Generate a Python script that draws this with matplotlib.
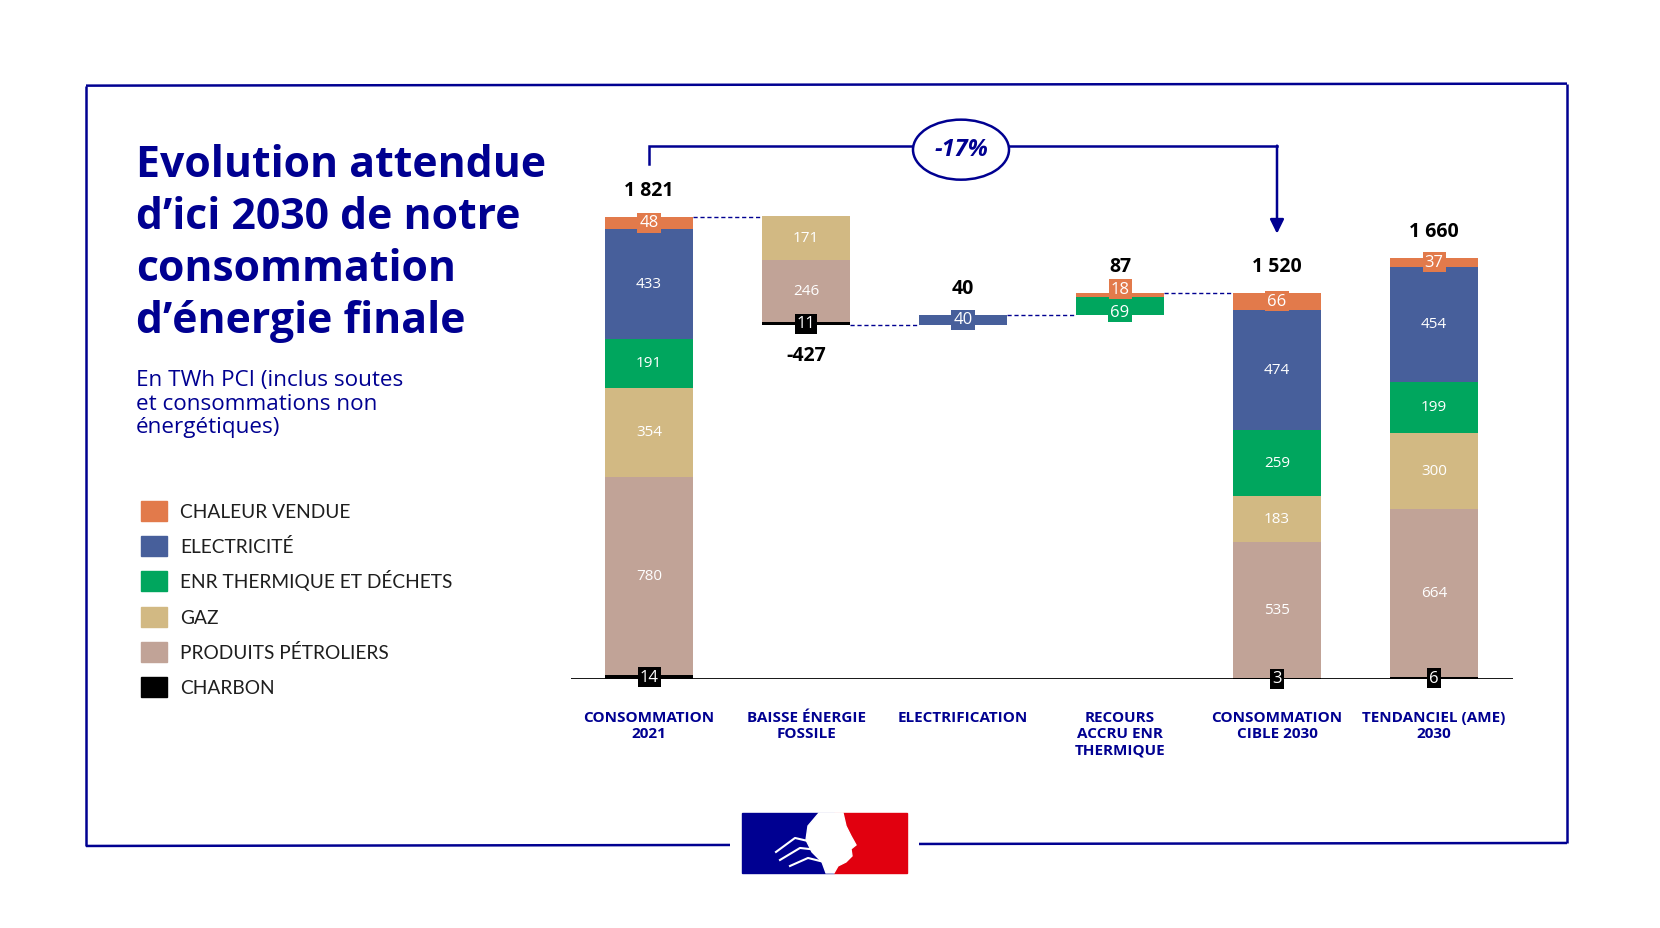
import matplotlib.pyplot as plt
from matplotlib.patches import Rectangle, Ellipse, Polygon

NAVY = "#000091"

# --- data ---------------------------------------------------------------
categories = ["CONSOMMATION\n2021", "BAISSE ÉNERGIE\nFOSSILE", "ELECTRIFICATION",
              "RECOURS\nACCRU ENR\nTHERMIQUE", "CONSOMMATION\nCIBLE 2030",
              "TENDANCIEL (AME)\n2030"]
kinds = ["total", "step", "step", "step", "total", "total"]

# stacked from bottom to top
energies = ["CHARBON", "PRODUITS PÉTROLIERS", "GAZ",
            "ENR THERMIQUE ET DÉCHETS", "ELECTRICITÉ", "CHALEUR VENDUE"]
charbon = [14, 11, 0, 0, 3, 6]
petrole = [780, 246, 0, 0, 535, 664]
gaz = [354, 171, 0, 0, 183, 300]
enr = [191, 0, 0, 69, 259, 199]
electricite = [433, 0, 40, 0, 474, 454]
chaleur = [48, 0, 0, 18, 66, 37]
totals = [1821, -427, 40, 87, 1520, 1660]
evolution = "-17%"

colors = ["#000000", "#C1A397", "#D2B983", "#00A65E", "#475F9B", "#E27A4B"]
series = [charbon, petrole, gaz, enr, electricite, chaleur]

# --- layout (pixels of the 1660x928 canvas) -----------------------------
W, H = 1660, 928
BASE_Y = 679          # pixel row of the zero line
PX_PER_TWH = 0.2537
X0, DX = 649, 157     # centre of first bar, spacing
AX_L, AX_R, AX_T = 571, 1513, 100
BAR_W = 88 / DX

plt.rcParams["font.family"] = ["Open Sans", "DejaVu Sans"]

fig = plt.figure(figsize=(W / 100, H / 100 + 0.004), dpi=100)

# overlay in pixel coordinates for frame, title, legend and logo
ov = fig.add_axes([0, 0, 1, 1])
ov.set_xlim(0, W)
ov.set_ylim(H, 0)
ov.axis("off")

ax = fig.add_axes([AX_L / W, (H - BASE_Y) / H, (AX_R - AX_L) / W, (BASE_Y - AX_T) / H])
ax.set_facecolor("none")
ax.set_xlim((AX_L - X0) / DX, (AX_R - X0) / DX)
ax.set_ylim(0, (BASE_Y - AX_T) / PX_PER_TWH)
for s in ax.spines.values():
    s.set_visible(False)
ax.set_yticks([])

# waterfall bases
bases, levels = [], []
level = 0
for i, k in enumerate(kinds):
    if k == "total":
        bases.append(0)
        level = totals[i]
    elif totals[i] < 0:
        level += totals[i]
        bases.append(level)
    else:
        bases.append(level)
        level += totals[i]
    levels.append(level)

min_gap = 23 / PX_PER_TWH
for i in range(len(categories)):
    cum = bases[i]
    boxed = []
    for vals, col in zip(series, colors):
        v = vals[i]
        if v <= 0:
            continue
        ax.bar(i, v, bottom=cum, width=BAR_W, color=col, zorder=2)
        yc = cum + v / 2
        if v < 100:
            boxed.append([yc, v, col])
        else:
            ax.text(i, yc, str(v), ha="center", va="center", color="white",
                    fontsize=11, zorder=4)
        cum += v
    # push adjacent small labels apart
    for a, b in zip(boxed, boxed[1:]):
        gap = b[0] - a[0]
        if gap < min_gap:
            d = (min_gap - gap) / 2
            a[0] -= d
            b[0] += d
    for yc, v, col in boxed:
        ax.text(i, yc, str(v), ha="center", va="center", color="white",
                fontsize=12, zorder=5,
                bbox=dict(boxstyle="square,pad=0.12", fc=col, ec="none"))

    # total labels
    lab = f"{totals[i]:,}".replace(",", " ")
    if totals[i] < 0:
        ax.annotate(lab, (i, bases[i]), xytext=(0, -22), textcoords="offset points",
                    ha="center", va="center", fontsize=14, fontweight="bold",
                    annotation_clip=False)
    else:
        ax.annotate(lab, (i, cum), xytext=(0, 19), textcoords="offset points",
                    ha="center", va="center", fontsize=14, fontweight="bold",
                    annotation_clip=False)

# dashed connectors
for i in range(len(categories) - 1):
    if kinds[i + 1] == "step" or kinds[i] == "step":
        ax.plot([i + BAR_W / 2, i + 1 - BAR_W / 2], [levels[i], levels[i]],
                color=NAVY, lw=1, ls=(0, (3, 2)), zorder=1)

ax.axhline(0, color="black", lw=2, zorder=3)

ax.set_xticks(range(len(categories)))
ax.set_xticklabels(categories, fontsize=11, fontweight="bold", color=NAVY,
                   linespacing=1.2)
ax.tick_params(axis="x", length=0, pad=23)

# evolution bracket
y_br = (BASE_Y - 146) / PX_PER_TWH
ax.plot([0, 0, 4], [(BASE_Y - 164) / PX_PER_TWH, y_br, y_br], color=NAVY, lw=1.8,
        clip_on=False, solid_joinstyle="miter")
ax.annotate("", xy=(4, (BASE_Y - 234) / PX_PER_TWH), xytext=(4, y_br),
            arrowprops=dict(arrowstyle="-|>,head_width=0.42,head_length=0.85",
                            color=NAVY, lw=1.8, shrinkA=0, shrinkB=0),
            annotation_clip=False)
ell_x = (961 - X0) / DX
ell_y = (BASE_Y - 150) / PX_PER_TWH
ax.add_patch(Ellipse((ell_x, ell_y), 96 / DX, 60 / PX_PER_TWH, fc="white",
                     ec=NAVY, lw=1.8, zorder=5, clip_on=False))
ax.text(ell_x, ell_y, evolution, ha="center", va="center", color=NAVY,
        fontsize=17, fontweight="bold", fontstyle="italic", zorder=6)

# frame with gap for logo
fkw = dict(color=NAVY, lw=1.8, solid_capstyle="butt")
ov.plot([86, 1567], [86, 84], **fkw)
ov.plot([86, 86], [86, 846], **fkw)
ov.plot([1567, 1567], [84, 843], **fkw)
ov.plot([86, 730], [846, 845], **fkw)
ov.plot([919, 1567], [844, 843], **fkw)

# title and subtitle
title = ["Evolution attendue", "d’ici 2030 de notre", "consommation",
         "d’énergie finale"]
for k, line in enumerate(title):
    ov.text(136, 177 + 52 * k, line, fontsize=30.8, fontweight="bold", color=NAVY,
            va="baseline")
subtitle = ["En TWh PCI (inclus soutes", "et consommations non", "énergétiques)"]
for k, line in enumerate(subtitle):
    ov.text(136, 386 + 23.5 * k, line, fontsize=16.2, color=NAVY, va="baseline")

# legend (top to bottom)
for k, idx in enumerate(reversed(range(len(energies)))):
    cy = 511 + 35.3 * k
    ov.add_patch(Rectangle((141, cy - 10), 26, 20, color=colors[idx]))
    ov.text(180, cy + 6.5, energies[idx], fontsize=13.8, color="#1e1e1e",
            family="Lato", va="baseline")

# logo
ov.add_patch(Rectangle((742, 813), 92, 60, color="#000091"))
ov.add_patch(Rectangle((834, 813), 73, 60, color="#E1000F"))
head = [(819, 813), (843, 813), (846, 826), (851, 836), (856, 845), (851, 849),
        (852, 856), (846, 862), (838, 866), (834, 873), (826, 873), (822, 862),
        (812, 852), (806, 840), (808, 826)]
ov.add_patch(Polygon(head, closed=True, color="white"))
for pts in [[(780, 860), (800, 848), (818, 850)], [(776, 852), (795, 838), (812, 842)],
            [(790, 866), (808, 858), (824, 862)]]:
    xs, ys = zip(*pts)
    ov.plot(xs, ys, color="white", lw=1.5)

fig.savefig("out.png", dpi=100, facecolor="white")
